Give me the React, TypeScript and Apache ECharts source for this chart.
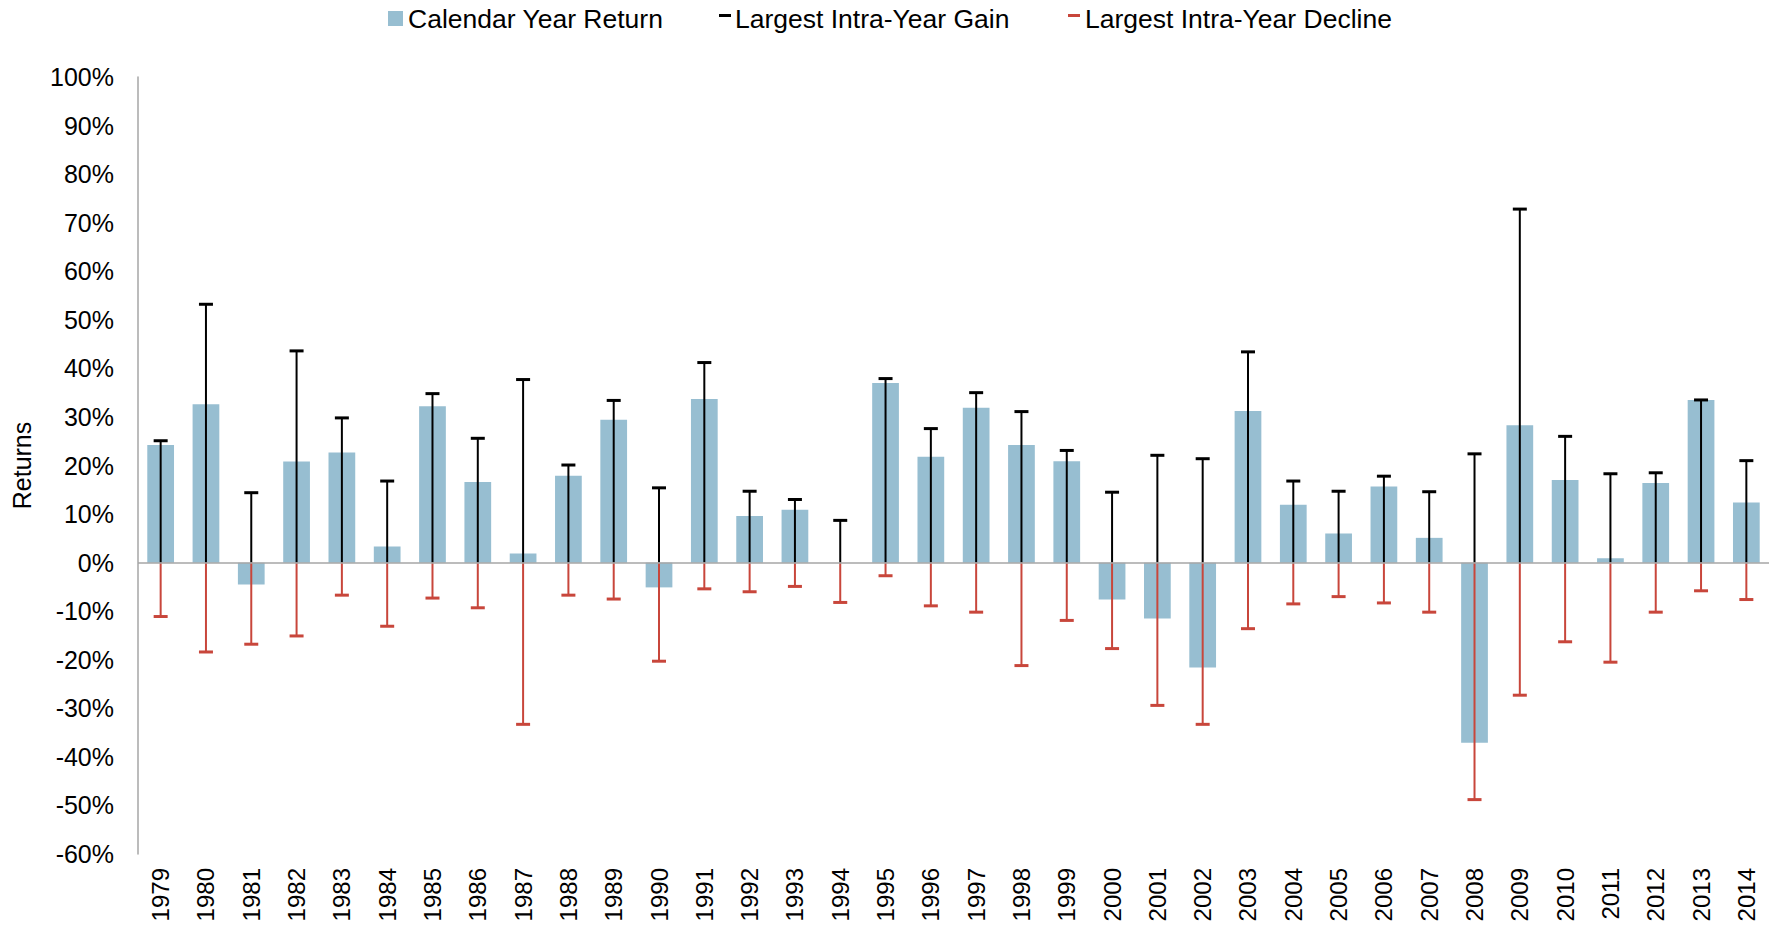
import React, { useEffect, useRef } from "react";
import * as echarts from "echarts";

const years = [
  "1979", "1980", "1981", "1982", "1983", "1984", "1985", "1986", "1987",
  "1988", "1989", "1990", "1991", "1992", "1993", "1994", "1995", "1996",
  "1997", "1998", "1999", "2000", "2001", "2002", "2003", "2004", "2005",
  "2006", "2007", "2008", "2009", "2010", "2011", "2012", "2013", "2014",
];

const calendarReturn = [
  24.2, 32.6, -4.5, 20.8, 22.7, 3.3, 32.2, 16.6, 1.9,
  17.9, 29.4, -5.1, 33.7, 9.6, 10.9, 0, 37.0, 21.8,
  31.9, 24.2, 20.9, -7.6, -11.5, -21.6, 31.2, 11.9, 6.0,
  15.7, 5.1, -37.1, 28.3, 17.0, 0.9, 16.4, 33.5, 12.4,
];

const intraYearGain = [
  25.1, 53.2, 14.4, 43.6, 29.8, 16.8, 34.8, 25.6, 37.7,
  20.1, 33.4, 15.4, 41.2, 14.7, 13.0, 8.7, 37.9, 27.6,
  35.0, 31.1, 23.1, 14.5, 22.1, 21.4, 43.4, 16.8, 14.7,
  17.8, 14.6, 22.4, 72.8, 26.0, 18.3, 18.5, 33.5, 21.0,
];

const intraYearDecline = [
  -11.1, -18.4, -16.8, -15.1, -6.7, -13.1, -7.3, -9.3, -33.3,
  -6.7, -7.5, -20.3, -5.4, -6.0, -4.9, -8.2, -2.7, -8.9,
  -10.2, -21.2, -11.9, -17.7, -29.4, -33.3, -13.6, -8.5, -7.0,
  -8.3, -10.2, -48.8, -27.3, -16.3, -20.5, -10.2, -5.8, -7.6,
];

const seriesNames = ["Calendar Year Return", "Largest Intra-Year Gain", "Largest Intra-Year Decline"];
const BAR_COLOR = "#97BED1";
const GAIN_COLOR = "#000000";
const DECLINE_COLOR = "#C8463B";
const FONT = "'Liberation Sans', Arial, Helvetica, sans-serif";

function errorBar(color: string) {
  return (params: any, api: any) => {
    const x = api.value(0);
    const v = api.value(1);
    const p0 = api.coord([x, 0]);
    const p1 = api.coord([x, v]);
    return {
      type: "group",
      children: [
        {
          type: "line",
          shape: { x1: p0[0], y1: p0[1], x2: p1[0], y2: p1[1] },
          style: { stroke: color, lineWidth: 2 },
        },
        {
          type: "line",
          shape: { x1: p1[0] - 7, y1: p1[1], x2: p1[0] + 7, y2: p1[1] },
          style: { stroke: color, lineWidth: 3 },
        },
      ],
    };
  };
}

export default function App() {
  const ref = useRef<HTMLDivElement>(null);
  useEffect(() => {
    if (!ref.current) return;
    const chart = echarts.init(ref.current, null, { renderer: "svg" });
    const textStyle = { fontFamily: FONT, fontSize: 26.5, fill: "#000" };
    chart.setOption({
      animation: false,
      backgroundColor: "#ffffff",
      grid: { left: 138, right: 4, top: 77, bottom: 72, containLabel: false },
      graphic: [
        { type: "rect", shape: { x: 388, y: 11, width: 15, height: 15 }, style: { fill: BAR_COLOR } },
        { type: "text", x: 408, y: 19, style: { ...textStyle, text: seriesNames[0], verticalAlign: "middle" } },
        { type: "rect", shape: { x: 719, y: 14, width: 12, height: 3 }, style: { fill: GAIN_COLOR } },
        { type: "text", x: 735, y: 19, style: { ...textStyle, text: seriesNames[1], verticalAlign: "middle" } },
        { type: "rect", shape: { x: 1068, y: 14, width: 12, height: 3 }, style: { fill: DECLINE_COLOR } },
        { type: "text", x: 1085, y: 19, style: { ...textStyle, text: seriesNames[2], verticalAlign: "middle" } },
      ],
      xAxis: {
        type: "category",
        data: years,
        axisLine: { show: false },
        axisTick: { show: false },
        axisLabel: {
          rotate: 90,
          margin: 14,
          interval: 0,
          color: "#000",
          fontSize: 24,
          fontFamily: FONT,
        },
      },
      yAxis: {
        type: "value",
        min: -60,
        max: 100,
        interval: 10,
        name: "Returns",
        nameLocation: "middle",
        nameGap: 104,
        nameTextStyle: { color: "#000", fontSize: 25, fontFamily: FONT },
        axisLine: { show: true, lineStyle: { color: "#A6A6A6", width: 1.5 } },
        axisTick: { show: false },
        splitLine: { show: false },
        axisLabel: {
          formatter: "{value}%",
          margin: 24,
          color: "#000",
          fontSize: 25,
          fontFamily: FONT,
        },
      },
      series: [
        {
          name: seriesNames[0],
          type: "bar",
          data: calendarReturn,
          barWidth: "59%",
          itemStyle: { color: BAR_COLOR },
          markLine: {
            silent: true,
            symbol: "none",
            label: { show: false },
            lineStyle: { color: "#A6A6A6", width: 1.5, type: "solid" },
            data: [{ yAxis: 0 }],
          },
        },
        {
          name: seriesNames[1],
          type: "custom",
          renderItem: errorBar(GAIN_COLOR),
          encode: { x: 0, y: 1 },
          data: intraYearGain.map((v, i) => [i, v]),
          z: 3,
        },
        {
          name: seriesNames[2],
          type: "custom",
          renderItem: errorBar(DECLINE_COLOR),
          encode: { x: 0, y: 1 },
          data: intraYearDecline.map((v, i) => [i, v]),
          z: 3,
        },
      ],
    });
    return () => chart.dispose();
  }, []);
  return (
    <div
      ref={ref}
      style={{ position: "fixed", left: 0, top: 0, width: 1773, height: 926, background: "#fff" }}
    />
  );
}
